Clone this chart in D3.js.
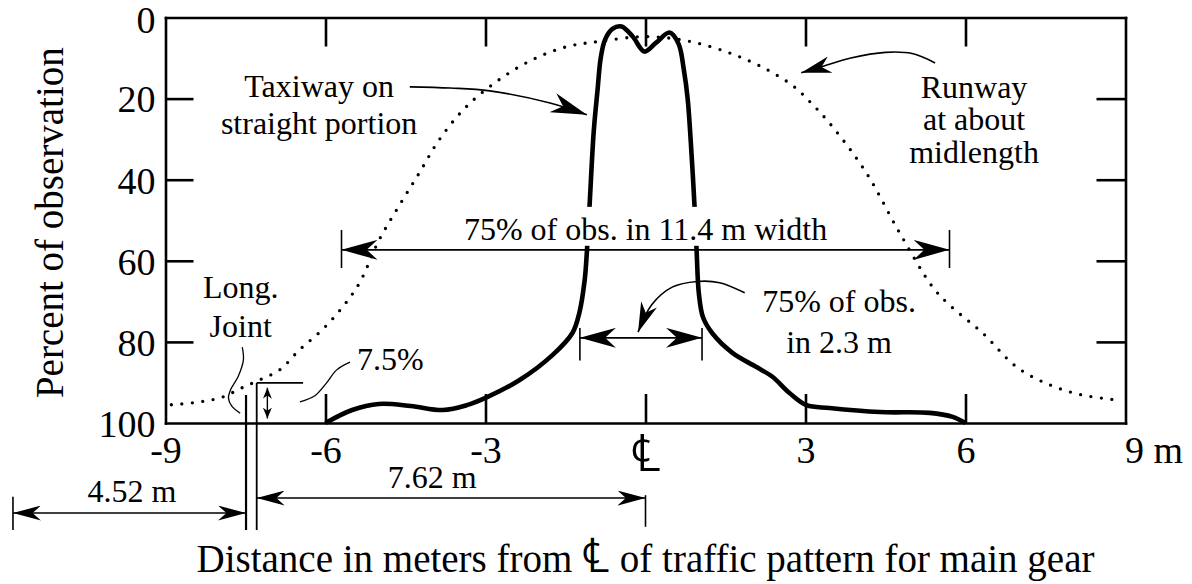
<!DOCTYPE html>
<html>
<head>
<meta charset="utf-8">
<script src="https://d3js.org/d3.v7.min.js"></script>
<style>
  body { margin: 0; background: #fff; }
  svg text { font-family: "Liberation Serif", "DejaVu Serif", serif; fill: #000; }
  .tick text { font-size: 38px; }
  .title { font-size: 39px; }
  .note { font-size: 32px; }
  .cl { font-family: "DejaVu Serif", serif; }
</style>
</head>
<body>
<svg id="svg" width="1192" height="584"></svg>
<script>
// axes
var xTicks = [-9, -6, -3, 0, 3, 6, 9];
var xTickLabels = ["-9", "-6", "-3", "\u2104", "3", "6", "9 m"];
var yTicks = [0, 20, 40, 60, 80, 100];

// taxiway on straight portion (solid), metres from centreline vs percent
var taxiX = [-6.0, -5.5, -5.0, -4.4, -3.8, -3.35, -3.0, -2.36, -1.74, -1.37, -1.24, -1.14, -1.1,
             -1.05, -0.97, -0.9, -0.84, -0.76, -0.62, -0.45, -0.24, -0.02, 0.2, 0.45, 0.62, 0.72,
             0.79, 0.86, 0.92, 0.96, 1.0, 1.08, 1.26, 1.63, 2.08, 2.38, 2.7, 3.02, 3.45, 4.39,
             5.33, 5.76, 6.0];
var taxiY = [100, 96.8, 95.3, 95.8, 96.8, 95.6, 93.8, 89.4, 83.2, 77.8, 72.8, 64.7, 58,
             46.7, 28, 18, 10, 5.5, 2.8, 2.2, 4.7, 8.4, 6.2, 3.7, 6.5, 13,
             20, 33, 46.7, 58, 68, 74, 78, 82.7, 86.2, 88.6, 92.6, 95.6, 96.3, 97.3,
             97.5, 98.5, 100];

// runway at about midlength (dotted)
var runX = [-8.89, -8.36, -7.93, -7.58, -7.24, -6.86, -6.49, -6.06, -5.68, -5.36, -5.0, -4.6,
            -4.24, -3.86, -3.36, -2.74, -2.12, -1.48, -0.86, 0, 0.83, 1.63, 2.27, 2.76, 3.1,
            3.51, 4.14, 4.76, 5.38, 5.7, 6.32, 6.96, 7.58, 8.19, 8.83];
var runY = [95.5, 94.8, 93.6, 91.4, 89.4, 86.9, 82, 77, 71.4, 65.4, 55, 46, 38.3, 30, 22, 15.3,
            10.4, 7.2, 5.9, 4.7, 5.9, 9.0, 12.8, 16.8, 21.0, 27.0, 38.3, 53, 66.4, 70.9, 77.8,
            86.2, 90.6, 93.1, 94.3];

var svg = d3.select("#svg");
var x = d3.scaleLinear().domain([-9, 9]).range([165.5, 1125.5]);
var y = d3.scaleLinear().domain([0, 100]).range([17.5, 423]);

// arrow heads
var defs = svg.append("defs");
function head(id, len, wid) {
  defs.append("marker")
    .attr("id", id)
    .attr("markerUnits", "userSpaceOnUse")
    .attr("viewBox", [-len, -wid / 2, len + 1, wid].join(" "))
    .attr("markerWidth", len + 1)
    .attr("markerHeight", wid)
    .attr("refX", 0).attr("refY", 0)
    .attr("orient", "auto-start-reverse")
    .append("path")
    .attr("d", "M0,0L" + (-len) + "," + (-wid / 2) + "L" + (-len * 0.7) + ",0L" + (-len) + "," + (wid / 2) + "Z")
    .attr("fill", "#000");
}
head("big", 36, 20);
head("mid", 30, 17);
head("sml", 28, 15);
head("tiny", 11, 9);

// frame + ticks
function styleAxis(g) {
  g.attr("font-family", null).attr("font-size", null);
  g.selectAll("path.domain").attr("stroke-width", 2.6).attr("stroke-linecap", "square");
  g.selectAll(".tick line").attr("stroke-width", 2.6);
}
svg.append("g").attr("transform", "translate(0," + y(100) + ")")
  .call(d3.axisBottom(x).tickValues(xTicks).tickSize(-29).tickSizeOuter(0).tickPadding(13)
    .tickFormat(function (d, i) { return xTickLabels[i]; }))
  .call(styleAxis)
  .call(function (g) {
    g.selectAll(".tick").filter(function (d) { return Math.abs(d) === 9; }).select("line").remove();
    g.selectAll(".tick text").filter(function (d) { return d === 9; })
      .attr("text-anchor", "start").attr("x", -1);
    g.selectAll(".tick text").filter(function (d) { return d === 0; })
      .attr("class", "cl").style("font-size", "52px").attr("y", 48).attr("dy", 0);
  });
svg.append("g").attr("transform", "translate(0," + y(0) + ")")
  .call(d3.axisTop(x).tickValues([-6, -3, 0, 3, 6]).tickSize(-29).tickSizeOuter(0).tickFormat(""))
  .call(styleAxis);
svg.append("g").attr("transform", "translate(" + x(-9) + ",0)")
  .call(d3.axisLeft(y).tickValues(yTicks).tickSize(-28).tickSizeOuter(0).tickPadding(10))
  .call(styleAxis)
  .call(function (g) {
    g.selectAll(".tick").filter(function (d) { return d === 0 || d === 100; }).select("line").remove();
    g.selectAll(".tick text").attr("dy", function (d) { return d === 0 ? "0.4em" : "0.35em"; });
  });
svg.append("g").attr("transform", "translate(" + x(9) + ",0)")
  .call(d3.axisRight(y).tickValues([20, 40, 60, 80]).tickSize(-29).tickSizeOuter(0).tickFormat(""))
  .call(styleAxis);

// axis titles
svg.append("text").attr("class", "title")
  .attr("transform", "translate(63," + y(50.6) + ") rotate(-90)")
  .attr("text-anchor", "middle")
  .text("Percent of observation");
var xt = svg.append("text").attr("class", "title")
  .attr("x", x(0)).attr("y", 572)
  .attr("text-anchor", "middle");
xt.append("tspan").text("Distance in meters from ");
xt.append("tspan").attr("class", "cl").style("font-size", "48px").text("\u2104");
xt.append("tspan").text(" of traffic pattern for main gear");

// curves
var line = d3.line().x(function (d) { return x(d[0]); }).y(function (d) { return y(d[1]); })
  .curve(d3.curveCatmullRom.alpha(0.5));

svg.append("path")
  .datum(runX.map(function (v, i) { return [v, runY[i]]; }))
  .attr("d", line)
  .attr("fill", "none").attr("stroke", "#000")
  .attr("stroke-width", 3.3).attr("stroke-linecap", "round")
  .attr("stroke-dasharray", "0 10.5");

svg.append("path")
  .datum(taxiX.map(function (v, i) { return [v, taxiY[i]]; }))
  .attr("d", line)
  .attr("fill", "none").attr("stroke", "#000")
  .attr("stroke-width", 4.6).attr("stroke-linejoin", "round");

// annotations
var ann = svg.append("g").attr("fill", "none").attr("stroke", "#000").attr("stroke-width", 1.6);
function seg(pts, w) {
  return ann.append("path").attr("d", line(pts)).attr("stroke-width", w || 1.6);
}
function dim(x0, x1, yy, mk) {
  seg([[x0, yy], [x1, yy]])
    .attr("marker-start", "url(#" + mk + ")").attr("marker-end", "url(#" + mk + ")");
}

// 75% in 11.4 m width
dim(-5.7, 5.7, 57.3, "big");
seg([[-5.7, 52.4], [-5.7, 61.8]]);
seg([[5.7, 52.4], [5.7, 61.8]]);
// 75% in 2.3 m
dim(-1.23, 1.06, 79.0, "big");
seg([[-1.23, 76.6], [-1.23, 84.6]]);
seg([[1.06, 76.6], [1.06, 84.6]]);
seg([[1.86, 67.9], [1.39, 65.4], [0.97, 65.1], [0.5, 66.5], [0.12, 70.8], [-0.14, 77.6]])
  .attr("marker-end", "url(#mid)");

// taxiway / runway pointers
seg([[-4.42, 17.1], [-3.66, 17.4], [-2.92, 18.1], [-1.79, 21.1], [-1.1, 24.0]])
  .attr("marker-end", "url(#big)");
seg([[5.43, 11.2], [5.0, 8.9], [4.5, 8.6], [3.85, 10.0], [3.27, 12.3], [2.92, 13.6]])
  .attr("marker-end", "url(#mid)");

// longitudinal joint and 7.5% step
seg([[-7.49, 93.1], [-7.49, 126.4]], 2.2);
seg([[-7.29, 90.1], [-7.29, 126.4]], 1.8);
seg([[-7.29, 90.1], [-6.42, 90.1]], 1.8);
seg([[-7.09, 91.3], [-7.09, 98.9]], 1.4)
  .attr("marker-start", "url(#tiny)").attr("marker-end", "url(#tiny)");
seg([[-7.56, 81.3], [-7.54, 84.5], [-7.64, 88.6], [-7.78, 91.8], [-7.82, 93.8], [-7.76, 95.8], [-7.6, 97.6]], 1.3);
seg([[-6.48, 94.8], [-6.2, 93.3], [-5.98, 90.1], [-5.79, 86.9], [-5.54, 85.0]], 1.3);

// bottom dimensions
dim(-11.86, -7.49, 122.2, "sml");
seg([[-11.86, 118.2], [-11.86, 126.4]]);
dim(-7.29, 0, 118.5, "sml");
seg([[0, 117.8], [0, 125.6]]);

// labels
function label(lines, xm, ys, anchor) {
  var t = svg.append("text").attr("class", "note").attr("text-anchor", anchor || "middle");
  lines.forEach(function (s, i) {
    t.append("tspan").attr("x", x(xm)).attr("y", y(ys[i])).text(s);
  });
  return t;
}
var wide = label(["75% of obs. in 11.4 m width"], 0, [54.9]);
var bb = wide.node().getBBox();
svg.insert("rect", function () { return wide.node(); })
  .attr("x", bb.x - 2).attr("y", y(46.7)).attr("width", bb.width + 4).attr("height", y(56.3) - y(46.7))
  .attr("fill", "#fff");

label(["Taxiway on", "straight portion"], -6.12, [19.6, 28.7]);
label(["Runway", "at about", "midlength"], 6.16, [19.85, 27.8, 35.9]);
label(["75% of obs.", "in 2.3 m"], 3.63, [72.6, 82.7]);
label(["Long.", "Joint"], -7.59, [69.2, 78.8]);
label(["7.5%"], -5.41, [86.9], "start");
label(["4.52 m"], -9.63, [119.5]);
label(["7.62 m"], -4.0, [116.0]);
</script>
</body>
</html>
